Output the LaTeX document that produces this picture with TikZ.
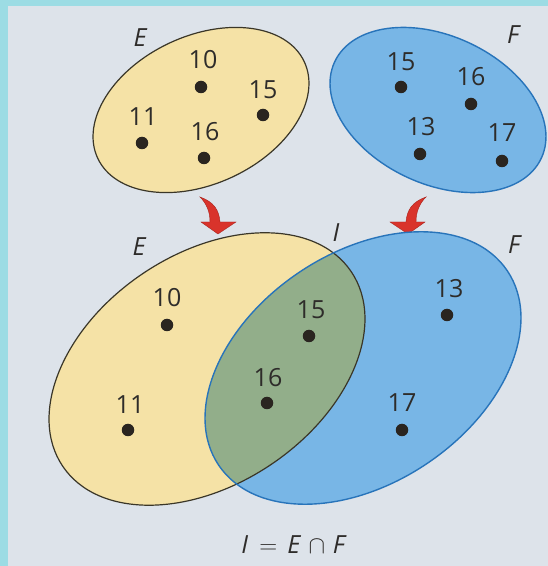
\documentclass[tikz,border=0pt]{standalone}
\usepackage{fontspec}
\setmainfont{Open Sans}
\begin{document}
\begin{tikzpicture}[x=1pt,y=1pt,
  lbl/.style={inner sep=0pt, font=\fontsize{25}{30}\selectfont, text=numcol},
  setlbl/.style={inner sep=0pt, font=\fontsize{25}{30}\selectfont\itshape, text=numcol},
  pt/.style={circle, fill=dotcol, inner sep=0pt, minimum size=12.5pt},
  eline/.style={draw=eedge, line width=1.2pt},
  fline/.style={draw=fedge, line width=1.4pt},
  bendarrow/.pic={
    \fill[arrowred, draw=arrowdark, line width=0.4pt]
      (0,35) .. controls (14,30) and (19,22) .. (20,10)
      -- (36,10) -- (18,-2) -- (1,10) -- (10,10)
      .. controls (10,21) and (6,29) .. (0,35) -- cycle;
  }]
\definecolor{framecol}{HTML}{9CDCE4}
\definecolor{panel}{HTML}{DDE3EA}
\definecolor{eyellow}{HTML}{F5E2A6}
\definecolor{fblue}{HTML}{78B6E6}
\definecolor{ovgreen}{HTML}{92AE8A}
\definecolor{eedge}{HTML}{3A3628}
\definecolor{fedge}{HTML}{2874BA}
\definecolor{dotcol}{HTML}{2A2520}
\definecolor{numcol}{HTML}{2E2C2A}
\definecolor{arrowred}{HTML}{D9332B}
\definecolor{arrowdark}{HTML}{A8231C}

\useasboundingbox (0,0) rectangle (548,566);
\fill[framecol] (0,0) rectangle (548,566);
\fill[panel] (8,0) rectangle (548,560);

% ---------- top sets ----------
\fill[eyellow] (201,456) ellipse [x radius=114, y radius=74, rotate=25];
\draw[eline] (201,456) ellipse [x radius=114, y radius=74, rotate=25];
\fill[fblue] (438,456) ellipse [x radius=114, y radius=74, rotate=-25];
\draw[fline] (438,456) ellipse [x radius=114, y radius=74, rotate=-25];

\node[setlbl] (tE) at (140,528) {E};
\node[setlbl] (tF) at (513,531) {F};

\node[lbl] (tl10) at (203,506) {10};
\node[pt]  (td10) at (201,479) {};
\node[lbl] (tl15) at (263,476) {15};
\node[pt]  (td15) at (263,451) {};
\node[lbl] (tl11) at (143,449) {11};
\node[pt]  (td11) at (142,423) {};
\node[lbl] (tl16) at (205,434) {16};
\node[pt]  (td16) at (204,408) {};

\node[lbl] (ul15) at (401,504) {15};
\node[pt]  (ud15) at (401,479) {};
\node[lbl] (ul16) at (471,489) {16};
\node[pt]  (ud16) at (471,462) {};
\node[lbl] (ul13) at (421,439) {13};
\node[pt]  (ud13) at (420,412) {};
\node[lbl] (ul17) at (502,433) {17};
\node[pt]  (ud17) at (502,405) {};

% ---------- arrows ----------
\pic at (200,334) {bendarrow};
\pic[xscale=-1] at (426,334) {bendarrow};

% ---------- bottom sets ----------
\fill[eyellow] (207,197) ellipse [x radius=174, y radius=115, rotate=34];
\fill[fblue] (363,198) ellipse [x radius=174, y radius=115, rotate=34];
\begin{scope}
  \clip (207,197) ellipse [x radius=174, y radius=115, rotate=34];
  \fill[ovgreen] (363,198) ellipse [x radius=174, y radius=115, rotate=34];
\end{scope}
\draw[eline] (207,197) ellipse [x radius=174, y radius=115, rotate=34];
\draw[fline] (363,198) ellipse [x radius=174, y radius=115, rotate=34];

\node[setlbl] (bE) at (139,319) {E};
\node[setlbl] (bI) at (336,333) {I};
\node[setlbl] (bF) at (514,321) {F};

\node[lbl] (bl10) at (167,268) {10};
\node[pt]  (bd10) at (167,241) {};
\node[lbl] (bl11) at (130,161) {11};
\node[pt]  (bd11) at (128,136) {};
\node[lbl] (bl16) at (268,188) {16};
\node[pt]  (bd16) at (267,163) {};
\node[lbl] (bl15) at (311,256) {15};
\node[pt]  (bd15) at (309,230) {};
\node[lbl] (bl13) at (449,277) {13};
\node[pt]  (bd13) at (447,251) {};
\node[lbl] (bl17) at (402,163) {17};
\node[pt]  (bd17) at (402,136) {};

\node[lbl] (formula) at (294,21) {\textit{I}\hspace{0.45em}{\fontsize{32}{32}\selectfont$=$}\hspace{0.4em}\textit{E}\hspace{0.3em}{\fontsize{32}{32}\selectfont$\cap$}\hspace{0.3em}\textit{F}};
\end{tikzpicture}
\end{document}
